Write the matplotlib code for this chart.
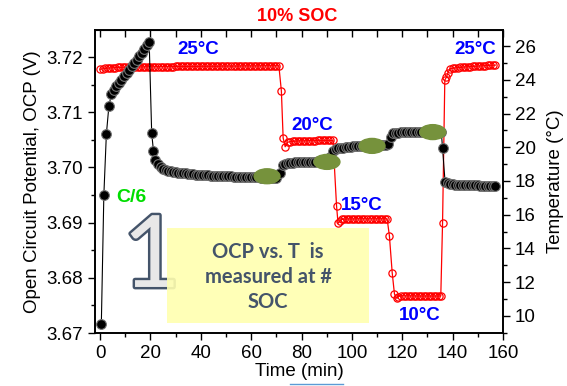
import matplotlib
matplotlib.use("Agg")
import matplotlib.pyplot as plt
import matplotlib.patheffects as pe
from matplotlib.patches import Ellipse, Rectangle
from matplotlib.lines import Line2D
from matplotlib.ticker import MultipleLocator

plt.rcParams['font.family'] = ['Liberation Sans', 'DejaVu Sans']

# open circuit potential (V) during rest after C/6 charge
ocp_time = [0.5, 1.5, 2.5, 3.5, 4.5, 5.5, 6.5, 7.5, 8.5, 9.5, 10.5, 11.5, 12.5, 13.5, 14.5,
            15.5, 16.5, 17.5, 18.5, 19.5, 20.5, 21.2,
            22, 23, 24, 25, 26, 27, 28, 29, 30, 31, 32, 33, 34, 35, 36, 37, 38, 39, 40,
            41, 42, 43, 44, 45, 46, 47, 48, 49, 50, 51, 52, 53, 54, 55, 56, 57, 58, 59, 60,
            61, 62, 63, 64, 65, 66, 67, 68, 69, 70, 71.5, 72.5,
            73.5, 74.5, 75.5, 76.5, 77.5, 78.5, 79.5, 80.5, 81.5, 82.5, 83.5, 84.5, 85.5,
            86.5, 87.5, 88.5, 89.5, 90.5, 91.5, 92.5,
            93.5, 94.5, 95.5, 96.5, 97.5, 98.5, 99.5, 100.5, 101.5, 102.5, 103.5, 104.5,
            105.5, 106.5, 107.5, 108.5, 109.5, 110.5, 111.5, 112.5, 113.5, 114.5, 115.5,
            116.5, 117.5, 118.5, 119.5, 120.5, 121.5, 122.5, 123.5, 124.5, 125.5, 126.5,
            127.5, 128.5, 129.5, 130.5, 131.5, 132.5, 133.5, 134.5, 135.5, 136.0, 137.0,
            138, 139, 140, 141, 142, 143, 144, 145, 146, 147, 148, 149, 150, 151, 152, 153,
            154, 155, 156, 157]
ocp_volt = [3.6716, 3.6950, 3.7060, 3.7111, 3.7133, 3.7141, 3.7147, 3.7153, 3.7159, 3.7165,
            3.7171, 3.7177, 3.7183, 3.7189, 3.7195, 3.7201, 3.7208, 3.7214, 3.7221, 3.7228,
            3.7062, 3.7030,
            3.7014, 3.7006, 3.7001, 3.6998, 3.6996, 3.6994, 3.6993, 3.6992, 3.6991,
            3.6990, 3.6990, 3.6989, 3.6989, 3.6988, 3.6988, 3.6988, 3.6987, 3.6987, 3.6987,
            3.6986, 3.6986, 3.6986, 3.6985, 3.6985, 3.6985, 3.6985, 3.6984, 3.6984, 3.6984,
            3.6984, 3.6984, 3.6983, 3.6983, 3.6983, 3.6983, 3.6983, 3.6982, 3.6982, 3.6982,
            3.6982, 3.6982, 3.6982, 3.6981, 3.6981, 3.6981, 3.6981, 3.6981, 3.6981, 3.6981,
            3.6990, 3.7004,
            3.7007, 3.7008, 3.7008, 3.7008, 3.7009, 3.7009, 3.7009, 3.7009, 3.7010, 3.7010,
            3.7010, 3.7010, 3.7010, 3.7011, 3.7011, 3.7011, 3.7011, 3.7011, 3.7018, 3.7030,
            3.7034, 3.7035, 3.7036, 3.7036, 3.7037, 3.7037, 3.7037, 3.7038, 3.7038, 3.7038,
            3.7038, 3.7039, 3.7039, 3.7039, 3.7039, 3.7039, 3.7040, 3.7040, 3.7040, 3.7040,
            3.7040, 3.7042, 3.7055,
            3.7062, 3.7063, 3.7063, 3.7064, 3.7064, 3.7064, 3.7064, 3.7064, 3.7065, 3.7065,
            3.7065, 3.7065, 3.7065, 3.7065, 3.7065, 3.7065, 3.7065, 3.7065, 3.7065, 3.7065,
            3.7035, 3.6974,
            3.6971, 3.6970, 3.6970, 3.6969, 3.6969, 3.6969, 3.6969, 3.6968, 3.6968, 3.6968,
            3.6968, 3.6968, 3.6968, 3.6967, 3.6967, 3.6967, 3.6967, 3.6967, 3.6967, 3.6967]

# chamber temperature (deg C)
temp_time = [0, 1, 2, 3, 4, 5, 6, 7, 8, 9, 10, 11, 12, 13, 14, 15, 16, 17, 18, 19,
             20, 21, 22, 23, 24, 25, 26, 27, 28, 29, 30, 31, 32, 33, 34, 35, 36, 37, 38, 39,
             40, 41, 42, 43, 44, 45, 46, 47, 48, 49, 50, 51, 52, 53, 54, 55, 56, 57, 58, 59,
             60, 61, 62, 63, 64, 65, 66, 67, 68, 69, 70, 71,
             72, 72.7, 73.5,
             74.5, 75.5, 76.5, 77.5, 78.5, 79.5, 80.5, 81.5, 82.5, 83.5, 84.5, 85.5, 86.5,
             87.5, 88.5, 89.5, 90.5, 91.5, 92.5,
             93.9, 94.5, 95.3,
             96, 97, 98, 99, 100, 101, 102, 103, 104, 105, 106, 107, 108, 109, 110, 111,
             112, 113, 114,
             114.9, 116.0, 116.9, 117.9, 118.5,
             119.5, 120.5, 121.5, 122.5, 123.5, 124.5, 125.5, 126.5, 127.5, 128.5, 129.5,
             130.5, 131.5, 132.5, 133.5, 134.5, 135.3,
             136.0, 136.9, 137.5, 138.1,
             139, 140, 141, 142, 143, 144, 145, 146, 147, 148, 149, 150, 151, 152, 153, 154,
             155, 156, 157]
temp_val = [24.62, 24.65, 24.67, 24.69, 24.70, 24.71, 24.72, 24.73, 24.73, 24.74,
            24.74, 24.75, 24.75, 24.75, 24.76, 24.76, 24.76, 24.76, 24.77, 24.77,
            24.77, 24.77, 24.77, 24.78, 24.78, 24.78, 24.78, 24.78, 24.78, 24.78,
            24.79, 24.79, 24.79, 24.79, 24.79, 24.79, 24.79, 24.79, 24.79, 24.79,
            24.80, 24.80, 24.80, 24.80, 24.80, 24.80, 24.80, 24.80, 24.81, 24.81,
            24.81, 24.81, 24.81, 24.81, 24.81, 24.81, 24.82, 24.82, 24.82, 24.82,
            24.82, 24.82, 24.82, 24.82, 24.83, 24.83, 24.83, 24.83, 24.83, 24.83,
            24.83, 24.83,
            23.33, 20.55, 20.03,
            20.30, 20.33, 20.35, 20.36, 20.37, 20.38, 20.38, 20.38, 20.39, 20.39,
            20.39, 20.39, 20.40, 20.40, 20.40, 20.40, 20.40, 20.40, 20.40,
            16.54, 15.49, 15.62,
            15.72, 15.74, 15.75, 15.75, 15.75, 15.75, 15.76, 15.76, 15.76, 15.76,
            15.76, 15.76, 15.76, 15.76, 15.76, 15.76, 15.76, 15.76, 15.76,
            14.74, 12.57, 11.30, 11.04, 11.15,
            11.20, 11.20, 11.19, 11.19, 11.19, 11.19, 11.18, 11.18, 11.18, 11.18, 11.18,
            11.18, 11.18, 11.18, 11.18, 11.18, 11.18,
            15.49, 23.99, 24.14, 24.40,
            24.66, 24.68, 24.70, 24.72, 24.73, 24.75, 24.76, 24.77, 24.78, 24.79,
            24.80, 24.81, 24.82, 24.83, 24.84, 24.85, 24.86, 24.86, 24.87]

# rest points picked for OCP(T) evaluation
pick_time = [66.3, 90.1, 108.0, 132.1]
pick_volt = [3.6984, 3.7010, 3.7039, 3.7064]

step_labels = ['25°C', '20°C', '15°C', '10°C', '25°C']
step_pos = [(0.252, 0.934), (0.532, 0.686), (0.654, 0.422), (0.797, 0.059), (0.932, 0.934)]

fig = plt.figure(figsize=(5.67, 3.86), dpi=100)
ax = fig.add_axes([0.1676, 0.1373, 0.7195, 0.785])
ax2 = ax.twinx()

ax2.plot(temp_time, temp_val, color='red', lw=0.9, marker='o', ms=5.2,
         mfc='none', mec='red', mew=0.9)

ax.plot(ocp_time, ocp_volt, color='black', lw=0.8, marker='o', ms=7,
        mfc='black', mec='0.45', mew=0.8)
for t, v in zip(pick_time, pick_volt):
    ax.add_patch(Ellipse((t, v), 10.3, 0.0027, color='#76923c', zorder=5))

ax.set_zorder(ax2.get_zorder() + 1)
ax.patch.set_visible(False)

ax.set_xlim(-2, 160)
ax.set_ylim(3.67, 3.7249)
ax2.set_ylim(8.99, 26.95)

ax.xaxis.set_major_locator(MultipleLocator(20))
ax.xaxis.set_minor_locator(MultipleLocator(10))
ax.yaxis.set_major_locator(MultipleLocator(0.01))
ax.yaxis.set_minor_locator(MultipleLocator(0.005))
ax2.yaxis.set_major_locator(MultipleLocator(2))
ax2.yaxis.set_minor_locator(MultipleLocator(1))
ax.yaxis.set_major_formatter(matplotlib.ticker.FormatStrFormatter('%.2f'))

ax.tick_params(which='major', length=5, width=1, labelsize=13.5, direction='out')
ax.tick_params(which='minor', length=3, width=1, direction='out')
ax2.tick_params(which='major', length=5, width=1, labelsize=13.5, direction='out')
ax2.tick_params(which='minor', length=3, width=1, direction='out')

top = ax.secondary_xaxis('top')
top.xaxis.set_major_locator(MultipleLocator(10))
top.tick_params(direction='in', length=5, width=1, labeltop=False)

for a in (ax, ax2):
    for s in a.spines.values():
        s.set_linewidth(1.2)

ax.set_xlabel('Time (min)', fontsize=13.5, labelpad=1)
ax.set_ylabel('Open Circuit Potential, OCP (V)', fontsize=13.5, labelpad=4)
ax2.set_ylabel('Temperature (°C)', fontsize=13.5, labelpad=8)

fig.text(0.525, 0.958, '10% SOC', color='red', fontsize=13, fontweight='bold',
         ha='center', va='center')
for lab, (x, y) in zip(step_labels, step_pos):
    ax.text(x, y, lab, transform=ax.transAxes, color='blue', fontsize=13.5,
            fontweight='bold', ha='center', va='center', zorder=7)
ax.text(0.089, 0.446, 'C/6', transform=ax.transAxes, color='#00dd00', fontsize=14,
        fontweight='bold', ha='center', va='center', zorder=7)

# big outlined "1" with the note box laid over it
ax.text(0.1385, 0.246, '1', transform=ax.transAxes, fontsize=72, family='Lato',
        color='#e8e8e8', ha='center', va='center', zorder=6,
        path_effects=[pe.withStroke(linewidth=3.5, foreground='#44546a')])
ax.add_patch(Rectangle((0.1765, 0.033), 0.495, 0.3135, transform=ax.transAxes,
                       facecolor='#ffffb0', edgecolor='none', alpha=0.9, zorder=6.5))
for line, y in zip(['OCP vs. T  is', 'measured at #', 'SOC'], [0.267, 0.185, 0.102]):
    ax.text(0.424, y, line, transform=ax.transAxes, color='#44546a', fontsize=14.5,
            family='Lato', fontweight='bold', ha='center', va='center', zorder=7)

fig.add_artist(Line2D([0.511, 0.605], [0.004, 0.004], color='#5b9bd5', lw=1))

fig.savefig('out.png', dpi=100)
